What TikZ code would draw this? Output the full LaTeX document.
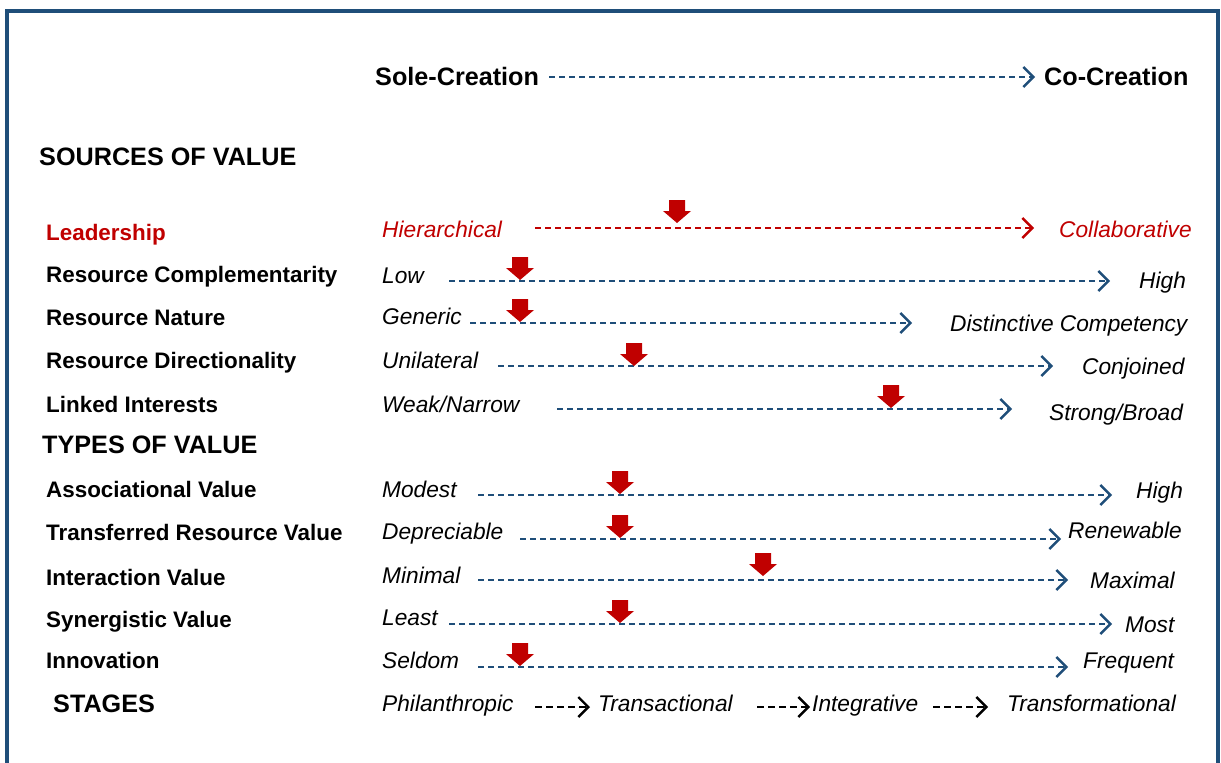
\documentclass[tikz,border=0pt]{standalone}
\usepackage{fontspec}
\setmainfont{Liberation Sans}
\usepackage{xcolor}
\definecolor{FrameBlue}{HTML}{1F4E79}
\definecolor{ScaleBlue}{HTML}{1F4E79}
\definecolor{MarkRed}{HTML}{C00000}
\usetikzlibrary{arrows.meta}

\begin{document}
\begin{tikzpicture}[
  x=1pt, y=-1pt,
  % === GRUNDSTILE ===
  % Ueberschriften
  headlbl/.style={
    font=\fontsize{25.2}{30}\selectfont\bfseries,
    anchor=base west,
    inner sep=0pt
  },
  % Zeilenbeschriftung links
  rowlbl/.style={
    font=\fontsize{22.4}{27}\selectfont\bfseries,
    anchor=base west,
    inner sep=0pt,
    text=#1
  },
  rowlbl/.default=black,
  % Pole der Skala (kursiv)
  pole/.style={
    font=\fontsize{22.7}{27}\selectfont\itshape,
    anchor=base west,
    inner sep=0pt,
    text=#1
  },
  pole/.default=black,
  % Pfeile
  scalearrow/.style={
    draw=#1,
    line width=2.2pt,
    dash pattern=on 6pt off 4pt,
    -{Straight Barb[length=10pt,width=20pt,line width=2.4pt]}
  },
  scalearrow/.default=ScaleBlue,
  stagearrow/.style={
    draw=black,
    line width=2.2pt,
    dash pattern=on 7pt off 4pt,
    -{Straight Barb[length=10pt,width=20pt,line width=2.4pt]}
  },
  % Roter Positionspfeil
  pics/valmark/.style={
    code={
      \fill[MarkRed] (-8,-23) -- ++(16,0) -- ++(0,11) -- ++(6,0)
        -- (0,0) -- ++(-14,-12) -- ++(6,0) -- cycle;
    }
  }
]

% =============================================================================
% RAHMEN
% =============================================================================
\useasboundingbox (0,0) rectangle (1221,763);
\draw[FrameBlue, line width=3.3pt] (7,763) -- (7,11) -- (1218,11) -- (1218,763);

% =============================================================================
% KOPFZEILE
% =============================================================================
\node[headlbl] (sole) at (375,85) {Sole-Creation};
\node[headlbl] (co) at (1044,85) {Co-Creation};
\coordinate (sole-s) at (549,77);
\coordinate (sole-e) at (1035,77);
\draw[scalearrow] (sole-s) -- (sole-e);

\node[headlbl] (sources) at (39,165) {SOURCES OF VALUE};
\node[headlbl] (types) at (42,453) {TYPES OF VALUE};

% --- Leadership (rot) ---
\node[rowlbl=MarkRed] (row1) at (46,240) {Leadership};
\node[pole=MarkRed] (lo1) at (382,237) {Hierarchical};
\node[pole=MarkRed] (hi1) at (1059,237) {Collaborative};
\coordinate (s1) at (535,228);
\coordinate (e1) at (1034,228);
\draw[scalearrow=MarkRed] (s1) -- (e1);
\pic at (677,223) {valmark};

% =============================================================================
% SKALEN
% \n / Label / y / links / y / Start / Ende / y-Linie / rechts / x / y / Marke x / Marke y
% =============================================================================
\foreach \n/\lab/\ly/\lo/\lb/\sx/\ex/\ay/\hi/\hx/\hb/\mx/\my in {
  2/{Resource Complementarity}/282/Low/283/449/1110/281/High/1139/288/520/280,
  3/{Resource Nature}/325/Generic/324/470/912/323/{Distinctive Competency}/950/331/520/322,
  4/{Resource Directionality}/368/Unilateral/368/498/1053/366/Conjoined/1082/374/634/366,
  5/{Linked Interests}/412/{Weak/Narrow}/412/557/1012/409/{Strong/Broad}/1049/420/891/408,
  6/{Associational Value}/497/Modest/497/478/1112/495/High/1136/498/620/494,
  7/{Transferred Resource Value}/540/Depreciable/539/520/1061/539/Renewable/1068/538/620/538,
  8/{Interaction Value}/585/Minimal/583/478/1068/580/Maximal/1090/588/763/576,
  9/{Synergistic Value}/627/Least/625/449/1112/624/Most/1125/632/620/623,
  10/Innovation/668/Seldom/668/478/1068/667/Frequent/1083/668/520/666} {
  \node[rowlbl] (row\n) at (46,\ly) {\lab};
  \node[pole] (lo\n) at (382,\lb) {\lo};
  \node[pole] (hi\n) at (\hx,\hb) {\hi};
  \coordinate (s\n) at (\sx,\ay);
  \coordinate (e\n) at (\ex,\ay);
  \draw[scalearrow] (s\n) -- (e\n);
  \pic at (\mx,\my) {valmark};
}

% =============================================================================
% STUFEN
% =============================================================================
\node[headlbl] (stages) at (53,712) {STAGES};
\foreach \i/\x/\txt in {1/382/Philanthropic, 2/598/Transactional,
                        3/812/Integrative, 4/1007/Transformational} {
  \node[pole] (st\i) at (\x,711) {\txt};
}
\foreach \i/\sx/\ex in {1/535/590, 2/757/810, 3/933/988} {
  \coordinate (sts\i) at (\sx,707);
  \coordinate (ste\i) at (\ex,707);
  \draw[stagearrow] (sts\i) -- (ste\i);
}

\end{tikzpicture}
\end{document}
